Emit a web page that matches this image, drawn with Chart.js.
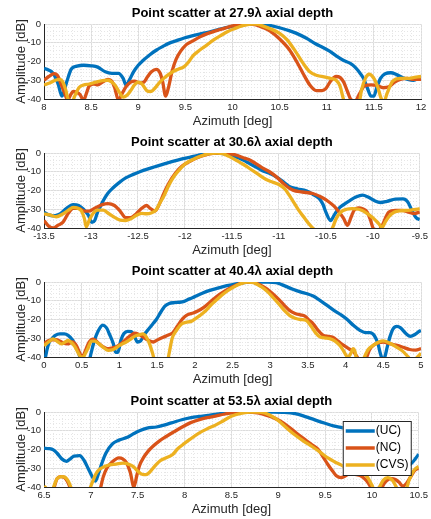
<!DOCTYPE html>
<html>
<head>
<meta charset="utf-8">
<script src="https://cdn.jsdelivr.net/npm/chart.js@4.4.1/dist/chart.umd.min.js"></script>
<style>
  body { margin: 0; background: #fff; }
  .panel { position: absolute; left: 0; width: 431px; height: 130px; }
  canvas { display: block; }
</style>
</head>
<body>
<div class="panel" style="top:0"><canvas id="c1" width="431" height="130"></canvas></div>
<div class="panel" style="top:129px"><canvas id="c2" width="431" height="130"></canvas></div>
<div class="panel" style="top:258px"><canvas id="c3" width="431" height="130"></canvas></div>
<div class="panel" style="top:388px"><canvas id="c4" width="431" height="130"></canvas></div>
<script>
// series names and colours (MATLAB default order)
const seriesLabels = ['(UC)', '(NC)', '(CVS)'];
const seriesColors = ['#0072BD', '#D95319', '#EDB120'];

// axial depths (in wavelengths) and azimuth ranges of the four panels
const depths = ['27.9', '30.6', '40.4', '53.5'];
const azRanges = [[8, 12], [-13.5, -9.5], [0, 5], [6.5, 10.5]];
const dbTicks = [0, -10, -20, -30, -40];

// each series: [azimuth deg, amplitude dB]
// --- 27.9 lambda ---
const uc1 = [[8.0,-23.5],[8.1,-26.5],[8.15,-32],[8.19,-38.5],[8.24,-31],[8.29,-24],[8.35,-22.5],[8.42,-22],[8.5,-22.3],[8.57,-23],[8.65,-25.5],[8.72,-26.3],[8.79,-26.3],[8.84,-29],[8.87,-32.5],[8.91,-29.5],[8.95,-25.5],[9.0,-22],[9.05,-19.5],[9.12,-16.5],[9.19,-14],[9.26,-12],[9.33,-10.2],[9.4,-9],[9.48,-7.6],[9.56,-6.5],[9.65,-5.4],[9.75,-4.3],[9.83,-3.2],[9.92,-2],[10.0,-1.2],[10.1,-0.3],[10.2,0],[10.3,-0.1],[10.4,-0.8],[10.5,-2],[10.6,-3.5],[10.68,-5],[10.78,-7.5],[10.88,-10.5],[10.96,-12.5],[11.03,-14.5],[11.1,-17],[11.18,-19.5],[11.25,-21],[11.3,-23],[11.35,-26],[11.39,-29],[11.43,-34],[11.47,-38.5],[11.5,-38.5],[11.53,-34],[11.57,-29],[11.62,-26.5],[11.68,-26],[11.74,-27],[11.8,-28.5],[11.86,-29.5],[11.92,-30],[11.97,-29],[12.0,-28]];
const nc1 = [[8.0,-30],[8.05,-28],[8.11,-26.5],[8.15,-28],[8.18,-32],[8.22,-37],[8.25,-40.5],[8.28,-38],[8.31,-36],[8.35,-36.5],[8.38,-37.5],[8.42,-40.5],[8.45,-37],[8.48,-33],[8.53,-32],[8.57,-32.5],[8.62,-31],[8.68,-29.5],[8.72,-30.5],[8.75,-34],[8.79,-40.5],[8.83,-37],[8.87,-33.5],[8.92,-31],[8.96,-30.5],[9.02,-31.5],[9.06,-31],[9.1,-28],[9.14,-25.5],[9.19,-24.2],[9.23,-26],[9.26,-31],[9.29,-38.5],[9.32,-34],[9.36,-25],[9.4,-19],[9.45,-14.5],[9.51,-11],[9.58,-9],[9.65,-7],[9.74,-5],[9.83,-3.5],[9.92,-2.2],[10.0,-1],[10.1,-0.2],[10.18,0],[10.25,-0.5],[10.32,-1.8],[10.4,-3.8],[10.5,-8],[10.6,-13.5],[10.68,-20],[10.75,-26.5],[10.82,-32.5],[10.89,-35.5],[10.95,-35.5],[10.99,-34.5],[11.04,-30.5],[11.1,-28],[11.14,-28.5],[11.18,-31],[11.22,-36],[11.26,-40.5],[11.3,-41],[11.35,-37],[11.4,-33],[11.47,-32.5],[11.53,-32.8],[11.6,-34],[11.66,-33.5],[11.72,-31],[11.78,-29.5],[11.85,-29],[11.92,-29.5],[12.0,-29.5]];
const cvs1 = [[8.0,-32.5],[8.06,-31.5],[8.12,-30],[8.17,-29.5],[8.2,-31],[8.23,-35],[8.26,-40.5],[8.3,-41],[8.33,-38],[8.37,-34],[8.42,-32.5],[8.48,-32],[8.55,-31],[8.62,-30.2],[8.68,-30],[8.72,-31],[8.76,-33],[8.8,-36.5],[8.84,-39],[8.88,-38],[8.92,-35.5],[8.96,-32.5],[9.0,-31],[9.04,-32],[9.09,-35.5],[9.13,-36],[9.18,-34],[9.22,-31.5],[9.27,-29],[9.32,-27],[9.37,-25.3],[9.43,-24],[9.48,-23],[9.53,-20.5],[9.58,-17],[9.65,-14],[9.72,-11.5],[9.8,-8.5],[9.88,-6],[9.95,-4],[10.02,-2.5],[10.1,-1],[10.2,0],[10.25,0],[10.32,-1],[10.4,-2.5],[10.5,-5],[10.58,-8.5],[10.68,-15.5],[10.75,-21],[10.82,-25.5],[10.9,-27.5],[10.97,-28.2],[11.04,-29],[11.1,-30],[11.14,-33],[11.18,-40.5],[11.22,-45],[11.33,-45],[11.37,-35],[11.41,-29],[11.45,-26.8],[11.5,-29],[11.54,-33.5],[11.58,-40],[11.61,-41],[11.64,-37],[11.7,-30.5],[11.78,-29],[11.86,-29],[11.93,-28.5],[12.0,-28]];

// --- 30.6 lambda ---
const uc2 = [[-13.5,-31.5],[-13.45,-33],[-13.4,-33.5],[-13.33,-32.5],[-13.26,-29.5],[-13.19,-27.6],[-13.13,-28],[-13.08,-30],[-13.03,-33],[-12.99,-37],[-12.96,-36],[-12.93,-31.5],[-12.9,-28.5],[-12.87,-25.5],[-12.82,-21.5],[-12.77,-18.8],[-12.7,-15.8],[-12.63,-13.3],[-12.55,-11.4],[-12.48,-10],[-12.4,-8.6],[-12.31,-7.2],[-12.22,-5.8],[-12.13,-4.5],[-12.04,-3.3],[-11.95,-2.3],[-11.86,-1.2],[-11.78,-0.4],[-11.7,0],[-11.62,-0.2],[-11.53,-1],[-11.45,-2.2],[-11.38,-3.8],[-11.32,-5.4],[-11.25,-7.3],[-11.18,-9.3],[-11.1,-10.8],[-11.02,-13],[-10.95,-15.5],[-10.89,-17.8],[-10.8,-19.2],[-10.71,-20.2],[-10.64,-22],[-10.57,-24.3],[-10.53,-27.5],[-10.5,-31.5],[-10.45,-36],[-10.41,-33],[-10.37,-30],[-10.31,-27.5],[-10.25,-25.5],[-10.18,-23.5],[-10.11,-22.5],[-10.05,-23.5],[-9.98,-25.5],[-9.92,-26.4],[-9.85,-25.8],[-9.76,-24.6],[-9.68,-24.5],[-9.63,-26],[-9.58,-31],[-9.54,-34.5],[-9.5,-35.5]];
const nc2 = [[-13.5,-36],[-13.45,-39],[-13.4,-40],[-13.35,-38.5],[-13.3,-37],[-13.24,-32],[-13.19,-29.5],[-13.13,-29.5],[-13.07,-31],[-13.02,-31],[-12.96,-29.5],[-12.88,-27.5],[-12.82,-27],[-12.75,-28],[-12.69,-31],[-12.63,-34.5],[-12.58,-34.5],[-12.52,-32.5],[-12.46,-29.5],[-12.41,-28],[-12.37,-29.5],[-12.32,-31],[-12.27,-27],[-12.22,-21],[-12.17,-16],[-12.1,-10.7],[-12.03,-7],[-11.95,-4.5],[-11.87,-2.5],[-11.78,-1],[-11.7,-0.2],[-11.64,0],[-11.55,-0.2],[-11.45,-1.2],[-11.38,-2.5],[-11.32,-3.5],[-11.25,-5.5],[-11.18,-7.8],[-11.1,-10],[-11.02,-13],[-10.94,-16.8],[-10.85,-19.8],[-10.75,-20.8],[-10.64,-21.6],[-10.55,-23.5],[-10.47,-26],[-10.41,-28.5],[-10.36,-31.5],[-10.31,-35],[-10.27,-38.6],[-10.23,-34],[-10.2,-30.6],[-10.15,-29.3],[-10.11,-29.7],[-10.06,-31.5],[-10.03,-35],[-9.99,-40.5],[-9.94,-41],[-9.9,-38.6],[-9.86,-34],[-9.83,-31.5],[-9.76,-30.6],[-9.69,-30.6],[-9.62,-31.5],[-9.56,-32.3],[-9.5,-31.5]];
const cvs2 = [[-13.5,-32.4],[-13.44,-33],[-13.37,-34],[-13.3,-32.5],[-13.24,-30.5],[-13.19,-29],[-13.14,-29.5],[-13.1,-31],[-13.07,-35],[-13.05,-39.4],[-13.02,-36],[-12.98,-32.4],[-12.93,-30.5],[-12.87,-30.5],[-12.82,-32],[-12.76,-34],[-12.69,-35.8],[-12.63,-36],[-12.57,-35],[-12.52,-33.3],[-12.46,-32.2],[-12.41,-32.4],[-12.36,-32],[-12.31,-30.5],[-12.27,-27],[-12.22,-22.5],[-12.17,-17],[-12.11,-12],[-12.06,-9],[-11.99,-5.5],[-11.92,-3.6],[-11.83,-1.6],[-11.74,-0.3],[-11.66,0],[-11.6,-0.3],[-11.53,-1.8],[-11.45,-4],[-11.38,-6],[-11.32,-8],[-11.23,-11],[-11.14,-14],[-11.07,-15.5],[-11.0,-16.8],[-10.94,-19],[-10.89,-22.5],[-10.84,-26.5],[-10.79,-30.5],[-10.73,-34.5],[-10.68,-37.8],[-10.64,-40],[-10.6,-42],[-10.5,-45],[-10.45,-42],[-10.43,-40],[-10.39,-35],[-10.34,-31.5],[-10.28,-30],[-10.22,-29.7],[-10.15,-30],[-10.1,-31],[-10.04,-33],[-9.99,-35],[-9.94,-37.5],[-9.9,-39.6],[-9.87,-37],[-9.83,-34],[-9.77,-31.5],[-9.7,-30.8],[-9.62,-30.6],[-9.56,-30.2],[-9.5,-29.7]];

// --- 40.4 lambda ---
const uc3 = [[0,-42],[0.02,-40],[0.04,-36],[0.07,-32],[0.1,-30.5],[0.15,-28.5],[0.21,-27.7],[0.27,-27.7],[0.32,-28.5],[0.38,-31],[0.42,-34],[0.46,-38],[0.49,-42],[0.55,-48],[0.6,-42],[0.63,-37],[0.67,-31],[0.72,-26],[0.78,-23],[0.83,-24.5],[0.87,-28],[0.92,-33],[0.95,-37.5],[0.98,-37.5],[1.02,-31],[1.06,-27.5],[1.11,-26.3],[1.16,-26.5],[1.2,-29],[1.24,-32],[1.28,-31.5],[1.33,-28],[1.38,-25.5],[1.44,-22.5],[1.49,-20],[1.55,-16],[1.6,-13],[1.66,-11.5],[1.73,-11],[1.8,-10.8],[1.86,-10.3],[1.93,-9],[2.0,-7.8],[2.1,-6],[2.2,-4.5],[2.3,-3.3],[2.4,-2.2],[2.5,-1.4],[2.6,-0.6],[2.73,0],[2.85,0],[2.97,0],[3.08,-0.4],[3.2,-2.2],[3.3,-3.9],[3.4,-5.3],[3.5,-6.4],[3.57,-7.5],[3.65,-9.5],[3.72,-11.5],[3.79,-13.5],[3.86,-15.5],[3.94,-17.5],[4.01,-19.6],[4.1,-23],[4.19,-25.8],[4.26,-27],[4.32,-27],[4.38,-28.5],[4.43,-33],[4.46,-38],[4.49,-41],[4.52,-40],[4.55,-35],[4.59,-29],[4.63,-25],[4.68,-23.7],[4.73,-24.5],[4.8,-27.5],[4.86,-29],[4.92,-28],[4.97,-26.5],[5.0,-25.8]];
const nc3 = [[0,-33],[0.05,-31.5],[0.1,-30.9],[0.16,-30.8],[0.21,-31.5],[0.27,-32.8],[0.32,-33],[0.38,-32],[0.43,-34],[0.47,-37.5],[0.5,-40],[0.53,-38.5],[0.56,-35.5],[0.6,-32],[0.64,-30.5],[0.68,-31],[0.72,-32.5],[0.78,-34.5],[0.84,-35.6],[0.9,-35.2],[0.96,-34.5],[1.02,-33],[1.09,-30.5],[1.15,-28.5],[1.2,-27.3],[1.26,-28],[1.32,-29.5],[1.38,-31],[1.45,-32],[1.5,-31],[1.58,-29.5],[1.65,-28.3],[1.71,-27],[1.77,-23.5],[1.84,-19.5],[1.9,-17.5],[1.98,-16.5],[2.04,-15.5],[2.11,-13.8],[2.2,-10.8],[2.29,-7.7],[2.39,-5],[2.49,-2.8],[2.6,-0.8],[2.7,0],[2.78,-0.2],[2.88,-1.8],[2.96,-3.8],[3.04,-6.5],[3.12,-9.5],[3.2,-13],[3.26,-15.3],[3.33,-16.8],[3.4,-17.5],[3.46,-18.2],[3.52,-20.5],[3.57,-22.3],[3.63,-25.5],[3.7,-28.4],[3.77,-29],[3.83,-29.5],[3.9,-31.5],[3.97,-33.7],[4.04,-35.5],[4.1,-37],[4.13,-38.5],[4.16,-40.5],[4.2,-43],[4.25,-42],[4.28,-40],[4.32,-36],[4.37,-33.7],[4.44,-32.3],[4.5,-32],[4.58,-32.8],[4.67,-33.7],[4.76,-34.8],[4.85,-36],[4.93,-36.3],[5.0,-35.5]];
const cvs3 = [[0,-34],[0.06,-32],[0.12,-30.4],[0.17,-31.5],[0.23,-33],[0.28,-32],[0.32,-31.2],[0.37,-32.5],[0.41,-34.5],[0.45,-37.5],[0.49,-40],[0.52,-40],[0.55,-38],[0.58,-35.6],[0.63,-31.5],[0.67,-31.5],[0.73,-33],[0.79,-35],[0.85,-36.5],[0.92,-36],[0.98,-34.5],[1.04,-33],[1.09,-32],[1.15,-30.5],[1.2,-29],[1.26,-28.2],[1.31,-27.7],[1.36,-29.5],[1.4,-33],[1.44,-38],[1.46,-41],[1.5,-46],[1.6,-46],[1.64,-42],[1.66,-38],[1.7,-30],[1.76,-25.6],[1.82,-22.5],[1.88,-21.5],[1.95,-21],[2.01,-19.5],[2.07,-17.8],[2.14,-15.5],[2.22,-12],[2.29,-9.5],[2.39,-6],[2.49,-3.3],[2.6,-1],[2.7,0],[2.78,-0.3],[2.88,-2.5],[2.96,-5],[3.04,-8.4],[3.12,-12],[3.2,-15.7],[3.26,-17.9],[3.33,-19.3],[3.4,-20],[3.48,-20.5],[3.54,-23.5],[3.6,-27],[3.66,-29.3],[3.72,-29.8],[3.79,-30.2],[3.86,-31.5],[3.92,-33.7],[3.97,-36.5],[4.03,-40],[4.07,-38],[4.1,-35.5],[4.12,-36.5],[4.14,-40],[4.18,-44],[4.22,-43],[4.25,-40],[4.3,-36],[4.37,-33.7],[4.44,-32],[4.5,-31.4],[4.58,-32.5],[4.67,-34.6],[4.76,-37],[4.83,-40],[4.88,-42],[4.94,-40.5],[5.0,-38]];

// --- 53.5 lambda ---
const uc4 = [[6.5,-19.3],[6.55,-19.5],[6.6,-20.2],[6.64,-22],[6.69,-25],[6.74,-26.3],[6.78,-25],[6.82,-23.5],[6.88,-23.3],[6.93,-26],[6.97,-30],[7.01,-34],[7.05,-36.8],[7.08,-33],[7.12,-27],[7.16,-22],[7.23,-17],[7.3,-15],[7.39,-13.5],[7.46,-11.5],[7.52,-10],[7.6,-8.6],[7.7,-8],[7.78,-7],[7.86,-5.8],[7.98,-4],[8.07,-3],[8.15,-2.4],[8.25,-1.8],[8.33,-1.3],[8.42,-0.6],[8.52,-0.3],[8.65,0],[8.8,0],[8.95,0],[9.05,-0.2],[9.18,-0.9],[9.28,-2.3],[9.39,-4.2],[9.5,-6],[9.6,-7.5],[9.69,-8.5],[9.78,-10.5],[9.9,-13],[10.0,-15.5],[10.1,-18],[10.2,-21],[10.3,-25],[10.38,-28.5],[10.43,-27],[10.47,-24.5],[10.5,-22.5]];
const nc4 = [[6.5,-46],[6.58,-46],[6.61,-40],[6.64,-35.5],[6.68,-34.5],[6.72,-35],[6.75,-37],[6.78,-40.5],[6.82,-46],[7.05,-46],[7.1,-41],[7.13,-35],[7.17,-30],[7.22,-27],[7.3,-24.5],[7.34,-25],[7.38,-27],[7.42,-32],[7.46,-40],[7.49,-34],[7.52,-28.5],[7.56,-24.5],[7.61,-21],[7.66,-18.4],[7.73,-15.5],[7.8,-13.2],[7.89,-10.5],[7.98,-7.9],[8.06,-5.8],[8.15,-4.2],[8.24,-3],[8.33,-2.2],[8.42,-1.2],[8.5,-0.5],[8.6,0],[8.68,0],[8.78,-0.5],[8.86,-1.5],[8.93,-2.6],[9.02,-4.8],[9.11,-7.9],[9.2,-11.5],[9.29,-14.9],[9.36,-17.5],[9.43,-20.2],[9.48,-24],[9.53,-28],[9.58,-31.5],[9.62,-34],[9.67,-35],[9.72,-34],[9.76,-33],[9.82,-33.3],[9.88,-34],[9.94,-36.5],[9.98,-39.5],[10.02,-44],[10.08,-44],[10.12,-39],[10.16,-36.5],[10.21,-35.5],[10.25,-36],[10.29,-37.5],[10.33,-39.5],[10.37,-38],[10.42,-34],[10.46,-31],[10.5,-30]];
const cvs4 = [[6.5,-39.5],[6.52,-40.5],[6.56,-46],[6.59,-42],[6.61,-39],[6.64,-35.5],[6.69,-34.5],[6.73,-35],[6.76,-37],[6.79,-40.5],[6.83,-46],[6.96,-46],[6.99,-41],[7.02,-37],[7.06,-32.5],[7.1,-30.3],[7.15,-29],[7.2,-28.2],[7.27,-27.8],[7.34,-27.3],[7.4,-27.8],[7.45,-29],[7.5,-31.5],[7.55,-33.3],[7.59,-33.4],[7.63,-32],[7.68,-29],[7.74,-26],[7.8,-24.5],[7.87,-22.8],[7.93,-19.5],[7.98,-17.5],[8.06,-14.5],[8.15,-11.4],[8.24,-9],[8.33,-7],[8.42,-4.5],[8.5,-2.3],[8.6,-0.8],[8.7,-0.1],[8.78,0],[8.86,-0.6],[8.94,-2.5],[9.0,-4.5],[9.09,-8.5],[9.18,-12.3],[9.27,-15.5],[9.36,-18.4],[9.45,-21.5],[9.53,-24.5],[9.6,-26.5],[9.67,-28.2],[9.75,-30.6],[9.82,-31.8],[9.9,-32.4],[9.95,-34.5],[10.0,-39],[10.03,-42],[10.08,-40],[10.12,-36.5],[10.17,-35],[10.22,-36.5],[10.26,-40],[10.3,-44],[10.36,-42],[10.4,-36],[10.45,-31],[10.5,-29]];

Chart.defaults.font.family = '"Liberation Sans", Arial, Helvetica, sans-serif';
Chart.defaults.color = '#262626';

// legend box drawn inside the plot area (top right), like MATLAB's "best" location
const insideLegend = {
    id: 'insideLegend',
    afterDatasetsDraw(chart, args, opts) {
        if (!opts.show) return;
        const { ctx, chartArea } = chart;
        const w = 68, h = 54;
        const x0 = chartArea.right - 8 - w, y0 = chartArea.top + 9;
        ctx.save();
        ctx.fillStyle = '#fff';
        ctx.fillRect(x0, y0, w, h);
        ctx.strokeStyle = '#262626';
        ctx.lineWidth = 1;
        ctx.strokeRect(x0 + 0.5, y0 + 0.5, w, h);
        ctx.font = '12px "Liberation Sans", Arial, sans-serif';
        ctx.textBaseline = 'middle';
        chart.data.datasets.forEach((ds, i) => {
            const y = y0 + 10 + i * 17;
            ctx.strokeStyle = ds.borderColor;
            ctx.lineWidth = 3.5;
            ctx.beginPath();
            ctx.moveTo(x0 + 3, y);
            ctx.lineTo(x0 + 32, y);
            ctx.stroke();
            ctx.fillStyle = '#000';
            ctx.fillText(ds.label, x0 + 33, y);
        });
        ctx.restore();
    }
};

// 8 -> "8", 8.5 -> "8.5"
const fmtTick = v => String(+v.toFixed(2));

function makeChart(id, depth, range, series, withLegend) {
    const ctx = document.getElementById(id).getContext('2d');
    return new Chart(ctx, {
        type: 'line',
        data: {
            datasets: series.map((pts, i) => ({
                label: seriesLabels[i],
                data: pts.map(p => ({ x: p[0], y: p[1] })),
                borderColor: seriesColors[i],
                backgroundColor: seriesColors[i],
                borderWidth: 3.3,
                pointRadius: 0,
                cubicInterpolationMode: 'monotone',
                order: 3 - i,
                xAxisID: 'x',
                yAxisID: 'y'
            }))
        },
        options: {
            responsive: false,
            animation: false,
            devicePixelRatio: 1,
            layout: { padding: { left: 0, right: 10, top: 0, bottom: 0 } },
            plugins: {
                legend: { display: false },
                tooltip: { enabled: false },
                title: {
                    display: true,
                    text: 'Point scatter at ' + depth + '\u03bb axial depth',
                    fullSize: false,
                    color: '#000',
                    font: { size: 13, weight: 'bold' },
                    padding: { top: 6, bottom: 2.4 }
                },
                insideLegend: { show: withLegend }
            },
            scales: {
                x: {
                    type: 'linear',
                    position: 'bottom',
                    min: range[0],
                    max: range[1],
                    ticks: { stepSize: 0.5, padding: 3, font: { size: 9.5 }, maxRotation: 0, callback: fmtTick },
                    grid: { color: '#dcdcdc', drawTicks: false },
                    border: { display: true, color: '#262626', width: 1 },
                    title: { display: true, text: 'Azimuth [deg]', font: { size: 13 }, padding: { top: 0, bottom: 1 } },
                    afterFit: s => { s.height = 31; }
                },
                y: {
                    type: 'linear',
                    position: 'left',
                    min: dbTicks[dbTicks.length - 1],
                    max: dbTicks[0],
                    ticks: { stepSize: 10, padding: 3, font: { size: 9.5 }, callback: fmtTick },
                    grid: { color: '#dcdcdc', drawTicks: false },
                    border: { display: true, color: '#262626', width: 1 },
                    title: { display: true, text: 'Amplitude [dB]', font: { size: 13 }, padding: { top: 14, bottom: 0 } },
                    afterFit: s => { s.width = 44; }
                },
                // minor grids (dotted)
                xMinor: {
                    type: 'linear',
                    position: 'top',
                    min: range[0],
                    max: range[1],
                    ticks: { display: false, stepSize: 0.1, maxTicksLimit: 100 },
                    grid: { color: '#e6e6e6', drawTicks: false },
                    border: { display: false, dash: [1, 2] },
                    afterFit: s => { s.height = 0; }
                },
                yMinor: {
                    type: 'linear',
                    position: 'right',
                    min: -40,
                    max: 0,
                    ticks: { display: false, stepSize: 2, maxTicksLimit: 100 },
                    grid: { color: '#e6e6e6', drawTicks: false },
                    border: { display: false, dash: [1, 2] },
                    afterFit: s => { s.width = 0; }
                }
            }
        },
        plugins: [insideLegend]
    });
}

makeChart('c1', depths[0], azRanges[0], [uc1, nc1, cvs1], false);
makeChart('c2', depths[1], azRanges[1], [uc2, nc2, cvs2], false);
makeChart('c3', depths[2], azRanges[2], [uc3, nc3, cvs3], false);
makeChart('c4', depths[3], azRanges[3], [uc4, nc4, cvs4], true);
</script>
</body>
</html>
